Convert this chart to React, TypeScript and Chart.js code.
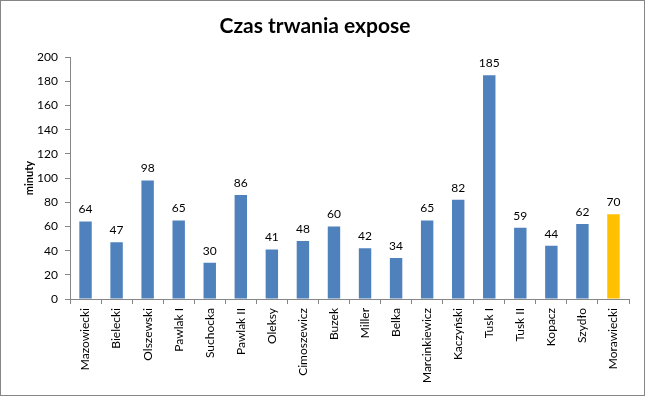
import React, { useEffect, useRef } from "react";
import { Chart, registerables } from "chart.js";

Chart.register(...registerables);

const categories = [
  "Mazowiecki", "Bielecki", "Olszewski", "Pawlak I", "Suchocka", "Pawlak II",
  "Oleksy", "Cimoszewicz", "Buzek", "Miller", "Belka", "Marcinkiewicz",
  "Kaczyński", "Tusk I", "Tusk II", "Kopacz", "Szydło", "Morawiecki",
];
const minutes = [64, 47, 98, 65, 30, 86, 41, 48, 60, 42, 34, 65, 82, 185, 59, 44, 62, 70];
const highlightIndex = 17;
const titleText = "Czas trwania expose";
const yTitle = "minuty";

const FONT = "Lato, 'Open Sans', sans-serif";

const dataLabels = {
  id: "dataLabels",
  afterDatasetsDraw(chart: any) {
    const ctx = chart.ctx;
    const meta = chart.getDatasetMeta(0);
    const data = chart.data.datasets[0].data;
    ctx.save();
    ctx.font = `12px ${FONT}`;
    ctx.fillStyle = "#000";
    ctx.textAlign = "center";
    ctx.textBaseline = "bottom";
    meta.data.forEach((el: any, i: number) => {
      ctx.fillText(String(data[i]), el.x, el.y - 6);
    });
    ctx.restore();
  },
};

export default function App() {
  const ref = useRef<HTMLCanvasElement>(null);
  useEffect(() => {
    document.body.style.margin = "0";
    const chart = new Chart(ref.current!, {
      type: "bar",
      data: {
        labels: categories,
        datasets: [
          {
            data: minutes,
            backgroundColor: minutes.map((_, i) => (i === highlightIndex ? "#FFC000" : "#4F81BD")),
            barPercentage: 0.4,
            categoryPercentage: 1,
          },
        ],
      },
      options: {
        animation: false,
        responsive: false,
        layout: { padding: { left: 0, right: 15, top: 0, bottom: 0 } },
        plugins: {
          legend: { display: false },
          tooltip: { enabled: false },
          title: {
            display: true,
            text: titleText,
            color: "#000",
            font: { family: FONT, size: 21, weight: "bold" },
            padding: { top: 13, bottom: 18 },
          },
        },
        scales: {
          x: {
            grid: { display: true, drawOnChartArea: false, tickLength: 5, color: "#868686", offset: true },
            border: { display: true, color: "#868686" },
            ticks: {
              color: "#000",
              font: { family: FONT, size: 12 },
              minRotation: 90,
              maxRotation: 90,
              autoSkip: false,
              padding: 4,
            },
            afterFit(scale: any) {
              scale.height = 96;
            },
          },
          y: {
            min: 0,
            max: 200,
            grid: { display: true, drawOnChartArea: false, tickLength: 5, color: "#868686" },
            border: { display: true, color: "#868686" },
            ticks: {
              stepSize: 20,
              color: "#000",
              font: { family: FONT, size: 12 },
              padding: 7,
            },
            title: {
              display: true,
              text: yTitle,
              color: "#000",
              font: { family: FONT, size: 11, weight: "bold" },
              padding: { top: 22, bottom: 0 },
            },
            afterFit(scale: any) {
              scale.width = 69;
            },
          },
        },
      },
      plugins: [dataLabels],
    });
    return () => chart.destroy();
  }, []);
  return (
    <div
      style={{
        width: 645,
        height: 396,
        boxSizing: "border-box",
        border: "1px solid #868686",
        background: "#fff",
      }}
    >
      <canvas ref={ref} width={643} height={394} style={{ display: "block" }} />
    </div>
  );
}
